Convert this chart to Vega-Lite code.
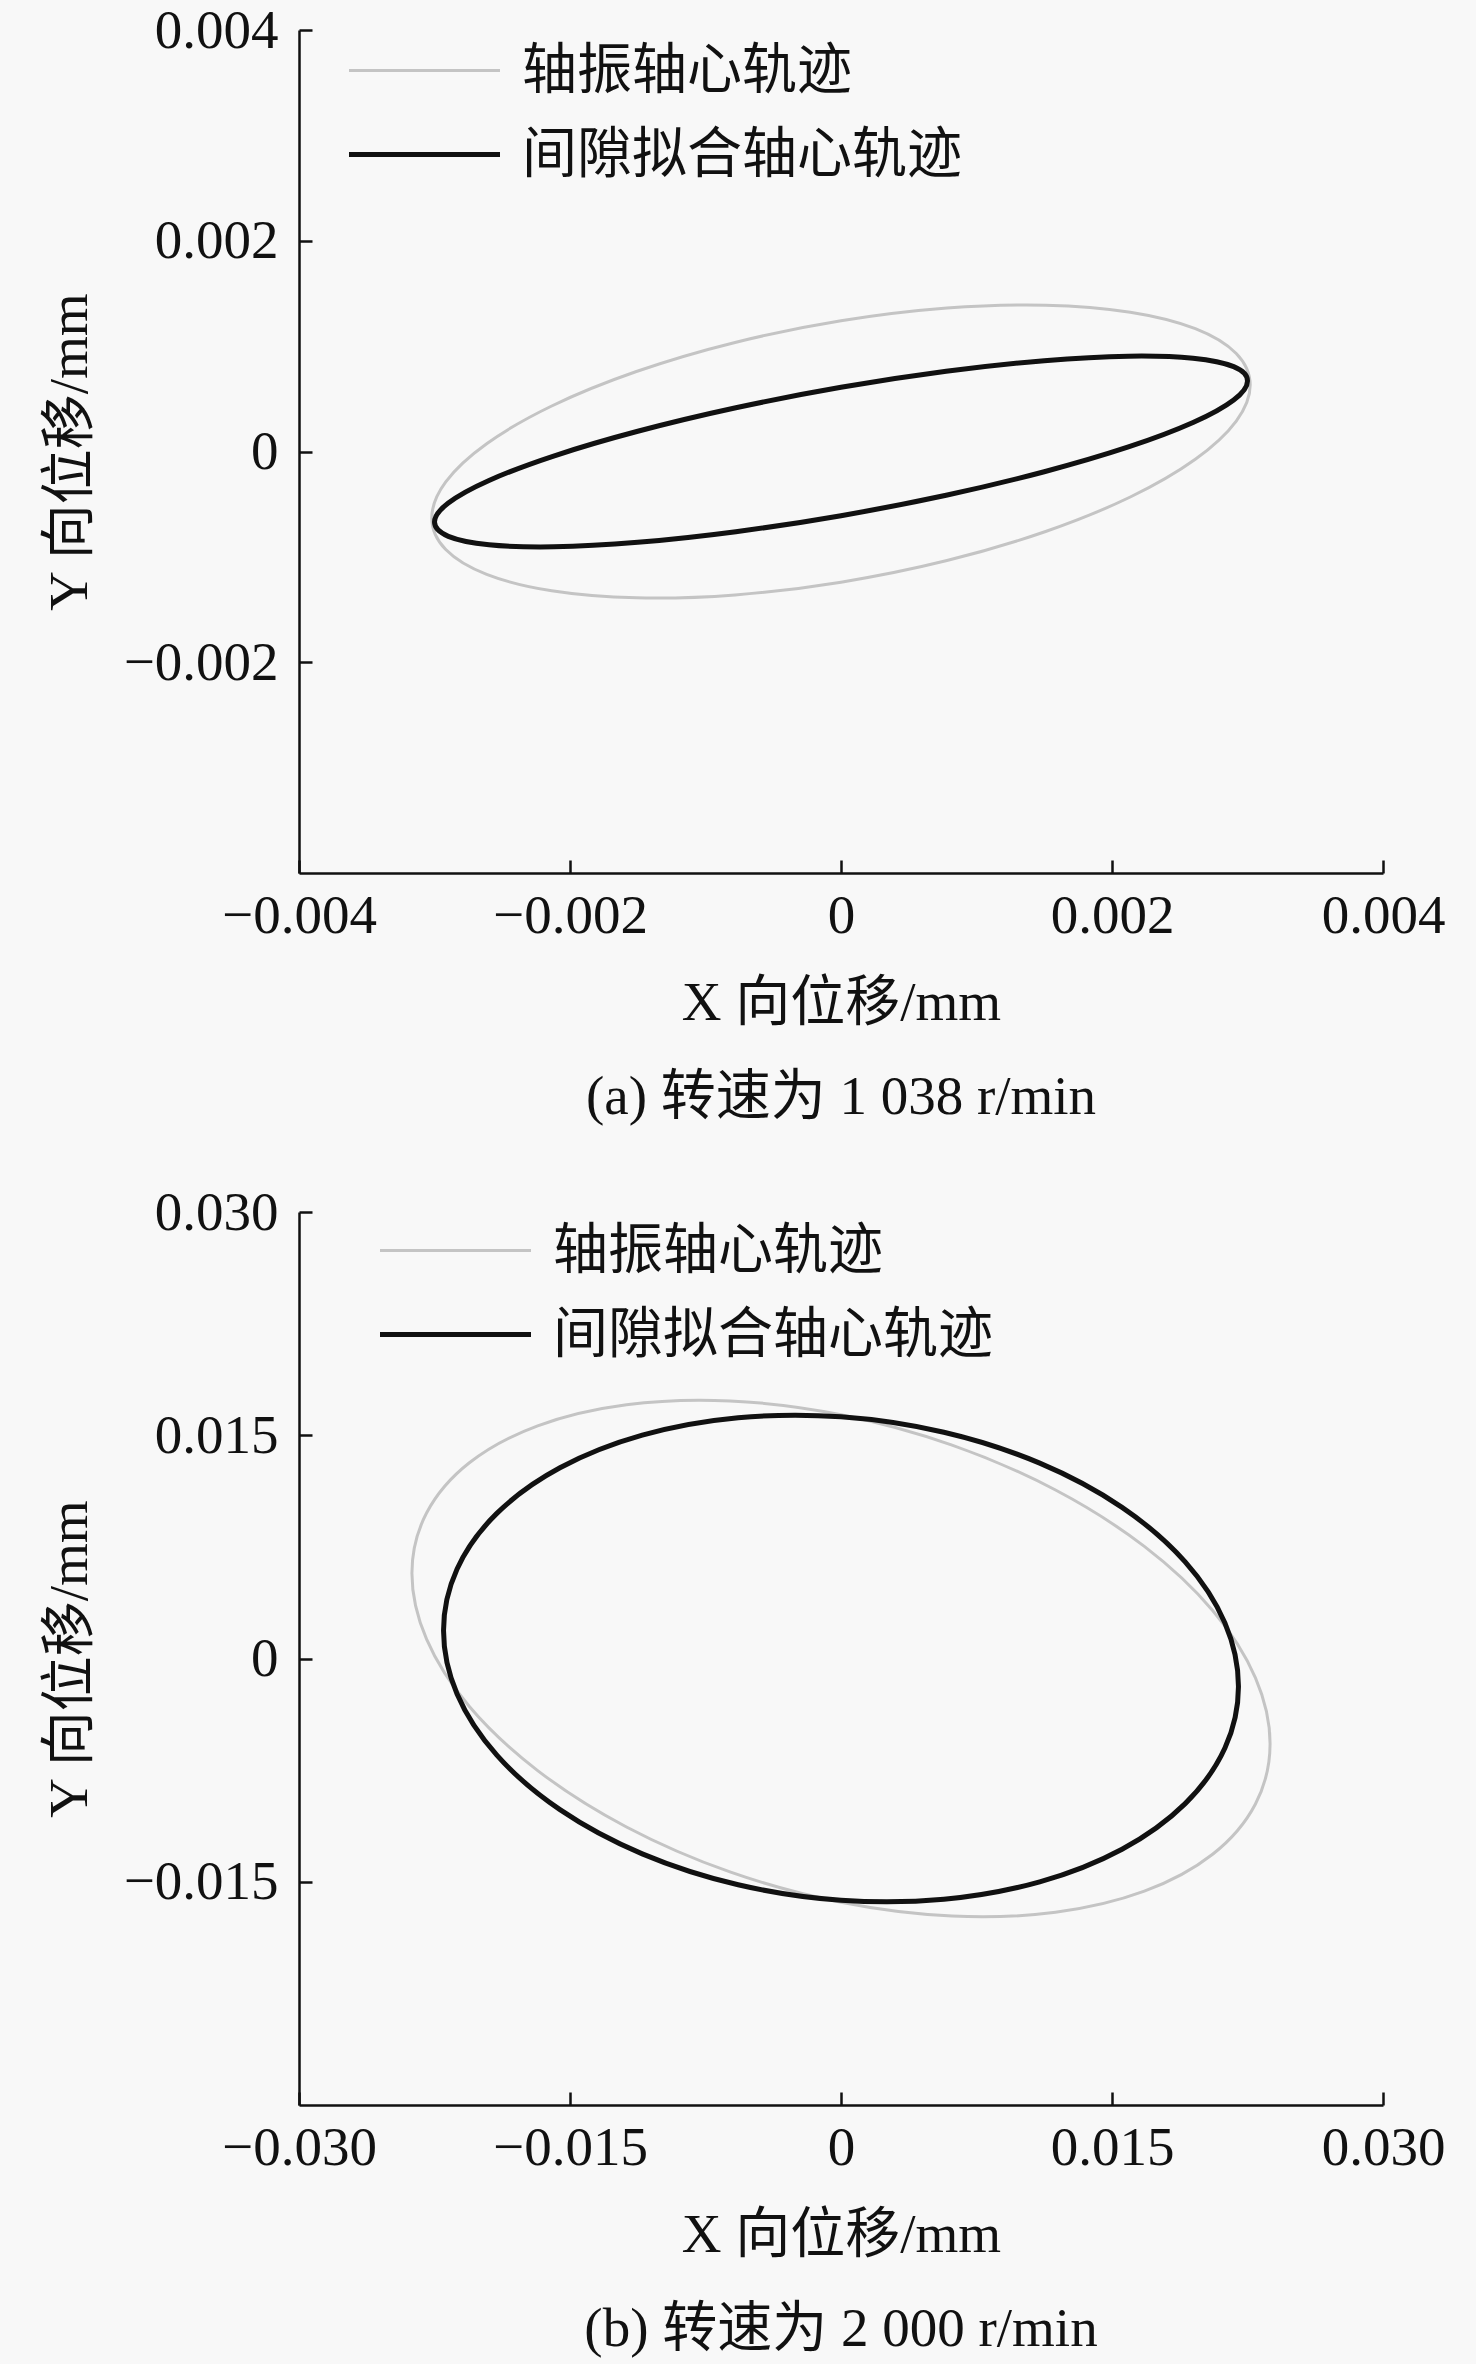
{
  "$schema": "https://vega.github.io/schema/vega-lite/v6.json",
  "background": "#f8f8f8",
  "padding": {"left": 42, "top": 3, "right": 31, "bottom": 9},
  "datasets": {
    "a": [
      {"s": "轴振轴心轨迹", "i": 0, "x": 0.00302, "y": 0.00063},
      {"s": "轴振轴心轨迹", "i": 1, "x": 0.002917, "y": 0.00093},
      {"s": "轴振轴心轨迹", "i": 2, "x": 0.002615, "y": 0.001166},
      {"s": "轴振轴心轨迹", "i": 3, "x": 0.002135, "y": 0.001322},
      {"s": "轴振轴心轨迹", "i": 4, "x": 0.00151, "y": 0.001389},
      {"s": "轴振轴心轨迹", "i": 5, "x": 0.000782, "y": 0.001361},
      {"s": "轴振轴心轨迹", "i": 6, "x": 0, "y": 0.00124},
      {"s": "轴振轴心轨迹", "i": 7, "x": -0.000782, "y": 0.001035},
      {"s": "轴振轴心轨迹", "i": 8, "x": -0.00151, "y": 0.000759},
      {"s": "轴振轴心轨迹", "i": 9, "x": -0.002135, "y": 0.000432},
      {"s": "轴振轴心轨迹", "i": 10, "x": -0.002615, "y": 0.000074},
      {"s": "轴振轴心轨迹", "i": 11, "x": -0.002917, "y": -0.000288},
      {"s": "轴振轴心轨迹", "i": 12, "x": -0.00302, "y": -0.00063},
      {"s": "轴振轴心轨迹", "i": 13, "x": -0.002917, "y": -0.00093},
      {"s": "轴振轴心轨迹", "i": 14, "x": -0.002615, "y": -0.001166},
      {"s": "轴振轴心轨迹", "i": 15, "x": -0.002135, "y": -0.001322},
      {"s": "轴振轴心轨迹", "i": 16, "x": -0.00151, "y": -0.001389},
      {"s": "轴振轴心轨迹", "i": 17, "x": -0.000782, "y": -0.001361},
      {"s": "轴振轴心轨迹", "i": 18, "x": 0, "y": -0.00124},
      {"s": "轴振轴心轨迹", "i": 19, "x": 0.000782, "y": -0.001035},
      {"s": "轴振轴心轨迹", "i": 20, "x": 0.00151, "y": -0.000759},
      {"s": "轴振轴心轨迹", "i": 21, "x": 0.002135, "y": -0.000432},
      {"s": "轴振轴心轨迹", "i": 22, "x": 0.002615, "y": -0.000074},
      {"s": "轴振轴心轨迹", "i": 23, "x": 0.002917, "y": 0.000288},
      {"s": "间隙拟合轴心轨迹", "i": 0, "x": 0.003, "y": 0.00067},
      {"s": "间隙拟合轴心轨迹", "i": 1, "x": 0.002898, "y": 0.000805},
      {"s": "间隙拟合轴心轨迹", "i": 2, "x": 0.002598, "y": 0.000885},
      {"s": "间隙拟合轴心轨迹", "i": 3, "x": 0.002121, "y": 0.000905},
      {"s": "间隙拟合轴心轨迹", "i": 4, "x": 0.0015, "y": 0.000862},
      {"s": "间隙拟合轴心轨迹", "i": 5, "x": 0.000776, "y": 0.000761},
      {"s": "间隙拟合轴心轨迹", "i": 6, "x": 0, "y": 0.000609},
      {"s": "间隙拟合轴心轨迹", "i": 7, "x": -0.000776, "y": 0.000415},
      {"s": "间隙拟合轴心轨迹", "i": 8, "x": -0.0015, "y": 0.000192},
      {"s": "间隙拟合轴心轨迹", "i": 9, "x": -0.002121, "y": -0.000043},
      {"s": "间隙拟合轴心轨迹", "i": 10, "x": -0.002598, "y": -0.000275},
      {"s": "间隙拟合轴心轨迹", "i": 11, "x": -0.002898, "y": -0.000489},
      {"s": "间隙拟合轴心轨迹", "i": 12, "x": -0.003, "y": -0.00067},
      {"s": "间隙拟合轴心轨迹", "i": 13, "x": -0.002898, "y": -0.000805},
      {"s": "间隙拟合轴心轨迹", "i": 14, "x": -0.002598, "y": -0.000885},
      {"s": "间隙拟合轴心轨迹", "i": 15, "x": -0.002121, "y": -0.000905},
      {"s": "间隙拟合轴心轨迹", "i": 16, "x": -0.0015, "y": -0.000862},
      {"s": "间隙拟合轴心轨迹", "i": 17, "x": -0.000776, "y": -0.000761},
      {"s": "间隙拟合轴心轨迹", "i": 18, "x": 0, "y": -0.000609},
      {"s": "间隙拟合轴心轨迹", "i": 19, "x": 0.000776, "y": -0.000415},
      {"s": "间隙拟合轴心轨迹", "i": 20, "x": 0.0015, "y": -0.000192},
      {"s": "间隙拟合轴心轨迹", "i": 21, "x": 0.002121, "y": 0.000043},
      {"s": "间隙拟合轴心轨迹", "i": 22, "x": 0.002598, "y": 0.000275},
      {"s": "间隙拟合轴心轨迹", "i": 23, "x": 0.002898, "y": 0.000489}
    ],
    "b": [
      {"s": "轴振轴心轨迹", "i": 0, "x": 0.02375, "y": -0.00573},
      {"s": "轴振轴心轨迹", "i": 1, "x": 0.02294, "y": -0.001296},
      {"s": "轴振轴心轨迹", "i": 2, "x": 0.02057, "y": 0.003228},
      {"s": "轴振轴心轨迹", "i": 3, "x": 0.01679, "y": 0.007531},
      {"s": "轴振轴心轨迹", "i": 4, "x": 0.011875, "y": 0.01132},
      {"s": "轴振轴心轨迹", "i": 5, "x": 0.006147, "y": 0.014339},
      {"s": "轴振轴心轨迹", "i": 6, "x": 0, "y": 0.01638},
      {"s": "轴振轴心轨迹", "i": 7, "x": -0.006147, "y": 0.017305},
      {"s": "轴振轴心轨迹", "i": 8, "x": -0.011875, "y": 0.01705},
      {"s": "轴振轴心轨迹", "i": 9, "x": -0.01679, "y": 0.015635},
      {"s": "轴振轴心轨迹", "i": 10, "x": -0.02057, "y": 0.013152},
      {"s": "轴振轴心轨迹", "i": 11, "x": -0.02294, "y": 0.009774},
      {"s": "轴振轴心轨迹", "i": 12, "x": -0.02375, "y": 0.00573},
      {"s": "轴振轴心轨迹", "i": 13, "x": -0.02294, "y": 0.001296},
      {"s": "轴振轴心轨迹", "i": 14, "x": -0.02057, "y": -0.003228},
      {"s": "轴振轴心轨迹", "i": 15, "x": -0.01679, "y": -0.007531},
      {"s": "轴振轴心轨迹", "i": 16, "x": -0.011875, "y": -0.01132},
      {"s": "轴振轴心轨迹", "i": 17, "x": -0.006147, "y": -0.014339},
      {"s": "轴振轴心轨迹", "i": 18, "x": 0, "y": -0.01638},
      {"s": "轴振轴心轨迹", "i": 19, "x": 0.006147, "y": -0.017305},
      {"s": "轴振轴心轨迹", "i": 20, "x": 0.011875, "y": -0.01705},
      {"s": "轴振轴心轨迹", "i": 21, "x": 0.01679, "y": -0.015635},
      {"s": "轴振轴心轨迹", "i": 22, "x": 0.02057, "y": -0.013152},
      {"s": "轴振轴心轨迹", "i": 23, "x": 0.02294, "y": -0.009774},
      {"s": "间隙拟合轴心轨迹", "i": 0, "x": 0.022, "y": -0.00188},
      {"s": "间隙拟合轴心轨迹", "i": 1, "x": 0.02125, "y": 0.002387},
      {"s": "间隙拟合轴心轨迹", "i": 2, "x": 0.01905, "y": 0.006493},
      {"s": "间隙拟合轴心轨迹", "i": 3, "x": 0.015556, "y": 0.010156},
      {"s": "间隙拟合轴心轨迹", "i": 4, "x": 0.011, "y": 0.013126},
      {"s": "间隙拟合轴心轨迹", "i": 5, "x": 0.005694, "y": 0.015202},
      {"s": "间隙拟合轴心轨迹", "i": 6, "x": 0, "y": 0.016242},
      {"s": "间隙拟合轴心轨迹", "i": 7, "x": -0.005694, "y": 0.016176},
      {"s": "间隙拟合轴心轨迹", "i": 8, "x": -0.011, "y": 0.015006},
      {"s": "间隙拟合轴心轨迹", "i": 9, "x": -0.015556, "y": 0.012814},
      {"s": "间隙拟合轴心轨迹", "i": 10, "x": -0.01905, "y": 0.009749},
      {"s": "间隙拟合轴心轨迹", "i": 11, "x": -0.02125, "y": 0.006019},
      {"s": "间隙拟合轴心轨迹", "i": 12, "x": -0.022, "y": 0.00188},
      {"s": "间隙拟合轴心轨迹", "i": 13, "x": -0.02125, "y": -0.002387},
      {"s": "间隙拟合轴心轨迹", "i": 14, "x": -0.01905, "y": -0.006493},
      {"s": "间隙拟合轴心轨迹", "i": 15, "x": -0.015556, "y": -0.010156},
      {"s": "间隙拟合轴心轨迹", "i": 16, "x": -0.011, "y": -0.013126},
      {"s": "间隙拟合轴心轨迹", "i": 17, "x": -0.005694, "y": -0.015202},
      {"s": "间隙拟合轴心轨迹", "i": 18, "x": 0, "y": -0.016242},
      {"s": "间隙拟合轴心轨迹", "i": 19, "x": 0.005694, "y": -0.016176},
      {"s": "间隙拟合轴心轨迹", "i": 20, "x": 0.011, "y": -0.015006},
      {"s": "间隙拟合轴心轨迹", "i": 21, "x": 0.015556, "y": -0.012814},
      {"s": "间隙拟合轴心轨迹", "i": 22, "x": 0.01905, "y": -0.009749},
      {"s": "间隙拟合轴心轨迹", "i": 23, "x": 0.02125, "y": -0.006019}
    ]
  },
  "config": {
    "font": "Liberation Serif, Noto Sans CJK SC",
    "view": {"stroke": null},
    "axis": {
      "grid": false,
      "domainColor": "#111111",
      "domainWidth": 2.5,
      "tickColor": "#111111",
      "tickWidth": 2.5,
      "tickSize": -13,
      "labelFlush": false,
      "labelFont": "Liberation Serif, Noto Sans CJK SC",
      "labelFontSize": 55,
      "labelColor": "#111111",
      "titleFont": "Liberation Serif, Noto Sans CJK SC",
      "titleFontSize": 55,
      "titleFontWeight": "normal",
      "titleColor": "#111111"
    },
    "axisX": {"labelPadding": 29, "titlePadding": 33},
    "axisY": {"labelPadding": 34, "titlePadding": 25},
    "legend": {
      "labelFont": "Liberation Serif, Noto Sans CJK SC",
      "labelFontSize": 55,
      "labelColor": "#111111",
      "labelLimit": 0,
      "padding": 0,
      "rowPadding": 28
    },
    "title": {
      "font": "Liberation Serif, Noto Sans CJK SC",
      "fontSize": 55,
      "fontWeight": "normal",
      "color": "#111111",
      "orient": "bottom",
      "offset": 41
    }
  },
  "spacing": 60,
  "resolve": {"legend": {"color": "independent", "strokeWidth": "independent"}},
  "vconcat": [
    {
      "width": 1084,
      "height": 843,
      "title": {"text": "(a) 转速为 1 038 r/min", "orient": "bottom"},
      "data": {"name": "a"},
      "encoding": {
        "x": {
          "field": "x", "type": "quantitative",
          "scale": {"domain": [-0.004, 0.004], "nice": false},
          "axis": {"values": [-0.004, -0.002, 0, 0.002, 0.004], "labelExpr": "datum.value == 0 ? '0' : format(datum.value, '.3f')", "title": "X 向位移/mm"}
        },
        "y": {
          "field": "y", "type": "quantitative",
          "scale": {"domain": [-0.004, 0.004], "nice": false},
          "axis": {"values": [-0.002, 0, 0.002, 0.004], "labelExpr": "datum.value == 0 ? '0' : format(datum.value, '.3f')", "title": "Y 向位移/mm"}
        },
        "order": {"field": "i", "type": "quantitative"},
        "color": {
          "field": "s", "type": "nominal",
          "scale": {"domain": ["轴振轴心轨迹", "间隙拟合轴心轨迹"], "range": ["#c4c4c4", "#111111"]},
          "legend": {"orient": "none", "legendX": 44, "legendY": 13, "title": null, "symbolType": "M-4,0L4,0", "symbolSize": 1425, "symbolOffset": 54, "labelOffset": 70}
        },
        "strokeWidth": {
          "field": "s", "type": "nominal",
          "scale": {"domain": ["轴振轴心轨迹", "间隙拟合轴心轨迹"], "range": [3, 5]},
          "legend": {"orient": "none", "legendX": 44, "legendY": 13, "title": null, "symbolType": "M-4,0L4,0", "symbolSize": 1425, "symbolOffset": 54, "labelOffset": 70}
        }
      },
      "layer": [
        {"transform": [{"filter": "datum.s == '轴振轴心轨迹'"}], "mark": {"type": "line", "interpolate": "cardinal-closed"}},
        {"transform": [{"filter": "datum.s == '间隙拟合轴心轨迹'"}], "mark": {"type": "line", "interpolate": "cardinal-closed"}}
      ]
    },
    {
      "width": 1084,
      "height": 893,
      "title": {"text": "(b) 转速为 2 000 r/min", "orient": "bottom"},
      "data": {"name": "b"},
      "encoding": {
        "x": {
          "field": "x", "type": "quantitative",
          "scale": {"domain": [-0.03, 0.03], "nice": false},
          "axis": {"values": [-0.03, -0.015, 0, 0.015, 0.03], "labelExpr": "datum.value == 0 ? '0' : format(datum.value, '.3f')", "title": "X 向位移/mm"}
        },
        "y": {
          "field": "y", "type": "quantitative",
          "scale": {"domain": [-0.03, 0.03], "nice": false},
          "axis": {"values": [-0.015, 0, 0.015, 0.03], "labelExpr": "datum.value == 0 ? '0' : format(datum.value, '.3f')", "title": "Y 向位移/mm"}
        },
        "order": {"field": "i", "type": "quantitative"},
        "color": {
          "field": "s", "type": "nominal",
          "scale": {"domain": ["轴振轴心轨迹", "间隙拟合轴心轨迹"], "range": ["#c4c4c4", "#111111"]},
          "legend": {"orient": "none", "legendX": 75, "legendY": 11, "title": null, "symbolType": "M-4,0L4,0", "symbolSize": 1425, "symbolOffset": 54, "labelOffset": 70}
        },
        "strokeWidth": {
          "field": "s", "type": "nominal",
          "scale": {"domain": ["轴振轴心轨迹", "间隙拟合轴心轨迹"], "range": [3, 5]},
          "legend": {"orient": "none", "legendX": 75, "legendY": 11, "title": null, "symbolType": "M-4,0L4,0", "symbolSize": 1425, "symbolOffset": 54, "labelOffset": 70}
        }
      },
      "layer": [
        {"transform": [{"filter": "datum.s == '轴振轴心轨迹'"}], "mark": {"type": "line", "interpolate": "cardinal-closed"}},
        {"transform": [{"filter": "datum.s == '间隙拟合轴心轨迹'"}], "mark": {"type": "line", "interpolate": "cardinal-closed"}}
      ]
    }
  ]
}
